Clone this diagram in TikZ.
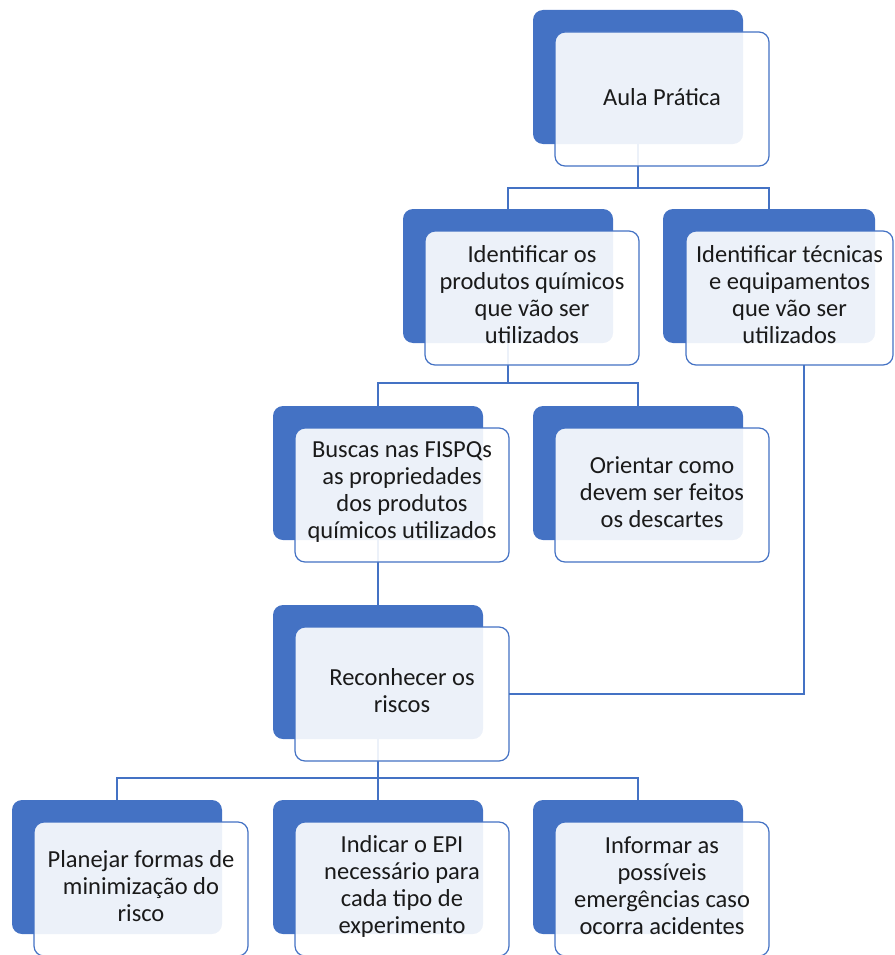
\documentclass[tikz,border=0pt]{standalone}
\usepackage{fontspec}
\setmainfont{Carlito}
\definecolor{accent}{HTML}{4472C4}
\definecolor{txt}{HTML}{1A1A1A}
\begin{document}
\begin{tikzpicture}[x=1pt,y=-1pt,
 backbox/.style={draw=none, fill=accent, rounded corners=10pt, minimum width=210pt, minimum height=134pt, inner sep=0pt, outer sep=0pt, anchor=north west},
 frontbox/.style={draw=accent, line width=1.2pt, fill=white, fill opacity=0.9, draw opacity=1, rounded corners=10pt, minimum width=214pt, minimum height=134pt, inner sep=0pt, outer sep=0pt, anchor=north west},
 boxtext/.style={inner sep=0pt, align=center, font=\fontsize{24.5}{27}\selectfont, text=txt},
 link/.style={draw=accent, line width=1.4pt}]
\useasboundingbox (0,0) rectangle (894,955);
% back boxes
\node[backbox] (bA)  at (533,10)  {};
\node[backbox] (bB1) at (403,209) {};
\node[backbox, minimum width=212pt] (bB2) at (663,209) {};
\node[backbox] (bC1) at (273,406) {};
\node[backbox] (bC2) at (533,406) {};
\node[backbox] (bD)  at (273,605) {};
\node[backbox] (bE1) at (12,800)  {};
\node[backbox] (bE2) at (273,800) {};
\node[backbox] (bE3) at (533,800) {};
% connectors
\draw[link] (bA.south) -- ++(0,44) -| (bB1.north);
\draw[link] (bA.south) -- ++(0,44) -| (bB2.north);
\draw[link] (bB1.south) -- ++(0,40) -| (bC1.north);
\draw[link] (bB1.south) -- ++(0,40) -| (bC2.north);
\draw[link] (bC1.south) -- (bD.north);
\draw[link] (bD.south) -- ++(0,39) -| (bE1.north);
\draw[link] (bD.south) -- ++(0,39) -| (bE2.north);
\draw[link] (bD.south) -- ++(0,39) -| (bE3.north);
% front boxes
\node[frontbox] (fA)  at (555,32)  {};
\node[frontbox] (fB1) at (425,231) {};
\node[frontbox, minimum width=207pt] (fB2) at (686,231) {};
\node[frontbox] (fC1) at (295,428) {};
\node[frontbox] (fC2) at (555,428) {};
\node[frontbox] (fD)  at (295,627) {};
\node[frontbox] (fE1) at (34,822)  {};
\node[frontbox] (fE2) at (295,822) {};
\node[frontbox] (fE3) at (555,822) {};
% texts
\node[boxtext] (tA)  at ([yshift=2pt]fA.center)  {Aula Prática};
\node[boxtext] (tB1) at ([yshift=3pt]fB1.center) {Identificar os\\produtos químicos\\que vão ser\\utilizados};
\node[boxtext] (tB2) at ([yshift=3pt]fB2.center) {Identificar técnicas\\e equipamentos\\que vão ser\\utilizados};
\node[boxtext] (tC1) at ([yshift=3pt]fC1.center) {Buscas nas FISPQs\\as propriedades\\dos produtos\\químicos utilizados};
\node[boxtext] (tC2) at ([yshift=3pt]fC2.center) {Orientar como\\devem ser feitos\\os descartes};
\node[boxtext] (tD)  at ([yshift=3pt]fD.center)  {Reconhecer os\\riscos};
\node[boxtext] (tE1) at ([yshift=3pt]fE1.center) {Planejar formas de\\minimização do\\risco};
\node[boxtext] (tE2) at ([yshift=3pt]fE2.center) {Indicar o EPI\\necessário para\\cada tipo de\\experimento};
\node[boxtext] (tE3) at ([yshift=3pt]fE3.center) {Informar as\\possíveis\\emergências caso\\ocorra acidentes};
% cross connector
\draw[link] ([xshift=14.5pt]fB2.south) |- (fD.east);
\end{tikzpicture}
\end{document}
